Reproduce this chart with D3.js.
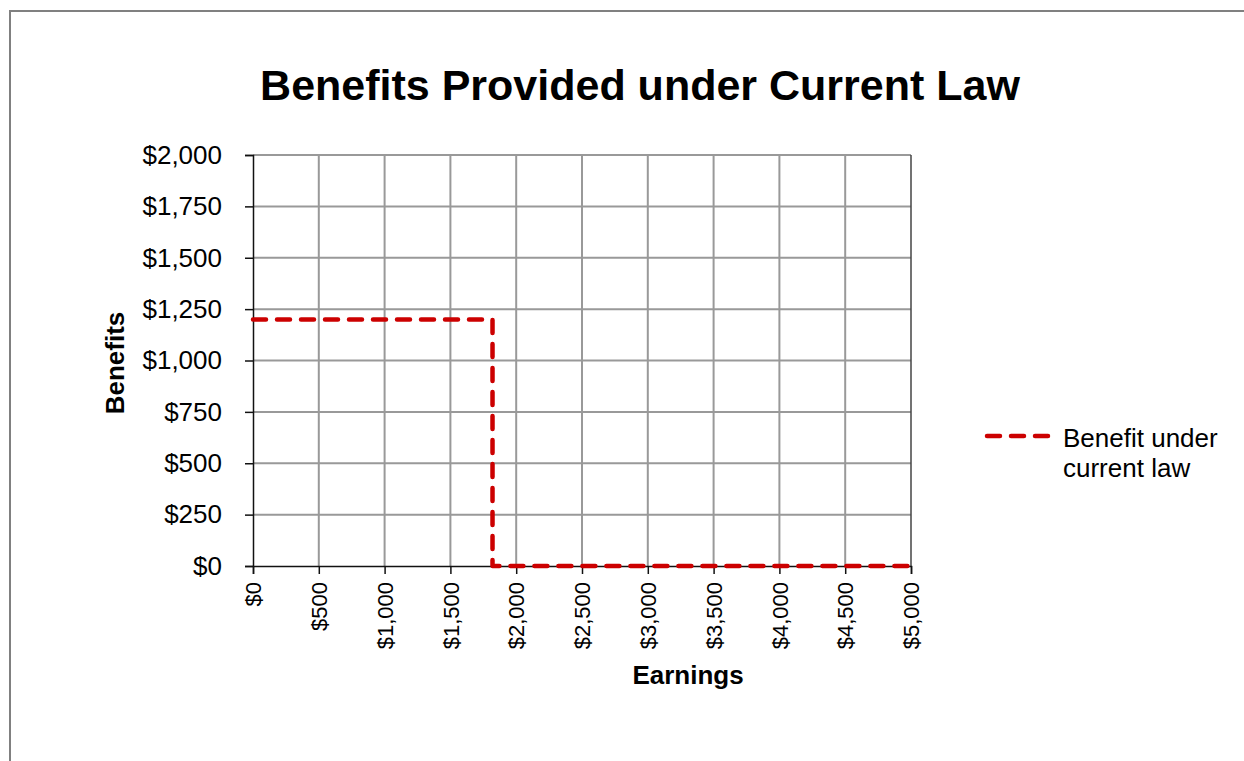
<!DOCTYPE html>
<html>
<head>
<meta charset="utf-8">
<script src="https://cdn.jsdelivr.net/npm/d3@7"></script>
<style>
  body { margin: 0; background: #fff; }
  svg { display: block; font-family: "Liberation Sans", Arial, sans-serif; }
</style>
</head>
<body>
<svg id="chart" width="1244" height="761"></svg>
<script>
// chart data
const earnings = [0, 1820, 1820, 5000];
const benefits = [1200, 1200, 0, 0];
const xTicks = [0, 500, 1000, 1500, 2000, 2500, 3000, 3500, 4000, 4500, 5000];
const yTicks = [0, 250, 500, 750, 1000, 1250, 1500, 1750, 2000];
const seriesName = ['Benefit under', 'current law'];

const margin = { top: 155, left: 253 };
const width = 658, height = 411;
const red = '#cc0000';

const svg = d3.select('#chart');

// outer frame
svg.append('rect')
    .attr('x', 10).attr('y', 11)
    .attr('width', 1300).attr('height', 800)
    .attr('fill', 'none')
    .attr('stroke', '#808080')
    .attr('stroke-width', 2);

svg.append('text')
    .attr('x', 640).attr('y', 100)
    .attr('text-anchor', 'middle')
    .style('font-size', '43px')
    .style('font-weight', 'bold')
    .text('Benefits Provided under Current Law');

const chart = svg.append('g')
    .attr('transform', `translate(${margin.left},${margin.top})`);

const x = d3.scaleLinear().domain([0, 5000]).range([0, width]);
const y = d3.scaleLinear().domain([0, 2000]).range([height, 0]);
const money = d => '$' + d3.format(',')(d);

// gridlines
chart.append('g')
    .selectAll('line.vg')
    .data(xTicks.slice(1, -1))
  .join('line')
    .attr('x1', d => x(d)).attr('x2', d => x(d))
    .attr('y1', 0).attr('y2', height)
    .attr('stroke', '#999').attr('stroke-width', 2);

chart.append('g')
    .selectAll('line.hg')
    .data(yTicks.slice(1))
  .join('line')
    .attr('x1', 0).attr('x2', width)
    .attr('y1', d => y(d)).attr('y2', d => y(d))
    .attr('stroke', '#999').attr('stroke-width', 2);

// right border
chart.append('line')
    .attr('x1', width).attr('x2', width)
    .attr('y1', 0).attr('y2', height)
    .attr('stroke', '#444').attr('stroke-width', 1.5);

// axes
const yAxis = d3.axisLeft(y).tickValues(yTicks).tickFormat(money)
    .tickSize(8).tickPadding(23);
const xAxis = d3.axisBottom(x).tickValues(xTicks).tickFormat(money)
    .tickSize(8);

chart.append('g')
    .call(yAxis)
    .call(g => g.select('.domain').attr('stroke', '#111').attr('stroke-width', 1.5))
    .call(g => g.selectAll('.tick line').attr('stroke', '#111').attr('stroke-width', 1.5))
    .call(g => g.selectAll('text').attr('fill', '#000').style('font-size', '26px')
        .style('font-family', '"Liberation Sans", Arial, sans-serif'));

chart.append('g')
    .attr('transform', `translate(0,${height})`)
    .call(xAxis)
    .call(g => g.select('.domain').attr('stroke', '#111').attr('stroke-width', 1.5))
    .call(g => g.selectAll('.tick line').attr('stroke', '#111').attr('stroke-width', 1.5))
    .call(g => g.selectAll('text')
        .attr('fill', '#000')
        .style('font-size', '22px')
        .style('font-family', '"Liberation Sans", Arial, sans-serif')
        .attr('transform', 'rotate(-90)')
        .attr('x', -16).attr('y', 0).attr('dy', '0.35em')
        .style('text-anchor', 'end'));

// axis titles
chart.append('text')
    .attr('x', 435).attr('y', height + 118)
    .attr('text-anchor', 'middle')
    .style('font-size', '26px').style('font-weight', 'bold')
    .text('Earnings');

chart.append('text')
    .attr('transform', 'rotate(-90)')
    .attr('x', -208).attr('y', -129)
    .attr('text-anchor', 'middle')
    .style('font-size', '26px').style('font-weight', 'bold')
    .text('Benefits');

// series line
const pts = earnings.map((e, i) => [e, benefits[i]]);
chart.append('path')
    .datum(pts)
    .attr('d', d3.line().x(d => x(d[0])).y(d => y(d[1])))
    .attr('fill', 'none')
    .attr('stroke', red)
    .attr('stroke-width', 4.5)
    .attr('stroke-dasharray', '13 11')
    .attr('stroke-linecap', 'round')
    .attr('stroke-linejoin', 'round');

// legend
const legend = svg.append('g').attr('transform', 'translate(985,436)');
legend.append('line')
    .attr('x1', 2).attr('x2', 63)
    .attr('stroke', red).attr('stroke-width', 4.5)
    .attr('stroke-dasharray', '13 11')
    .attr('stroke-linecap', 'round');
legend.selectAll('text')
    .data(seriesName)
  .join('text')
    .attr('x', 78)
    .attr('y', (d, i) => 11 + i * 30)
    .style('font-size', '26px')
    .text(d => d);
</script>
</body>
</html>
